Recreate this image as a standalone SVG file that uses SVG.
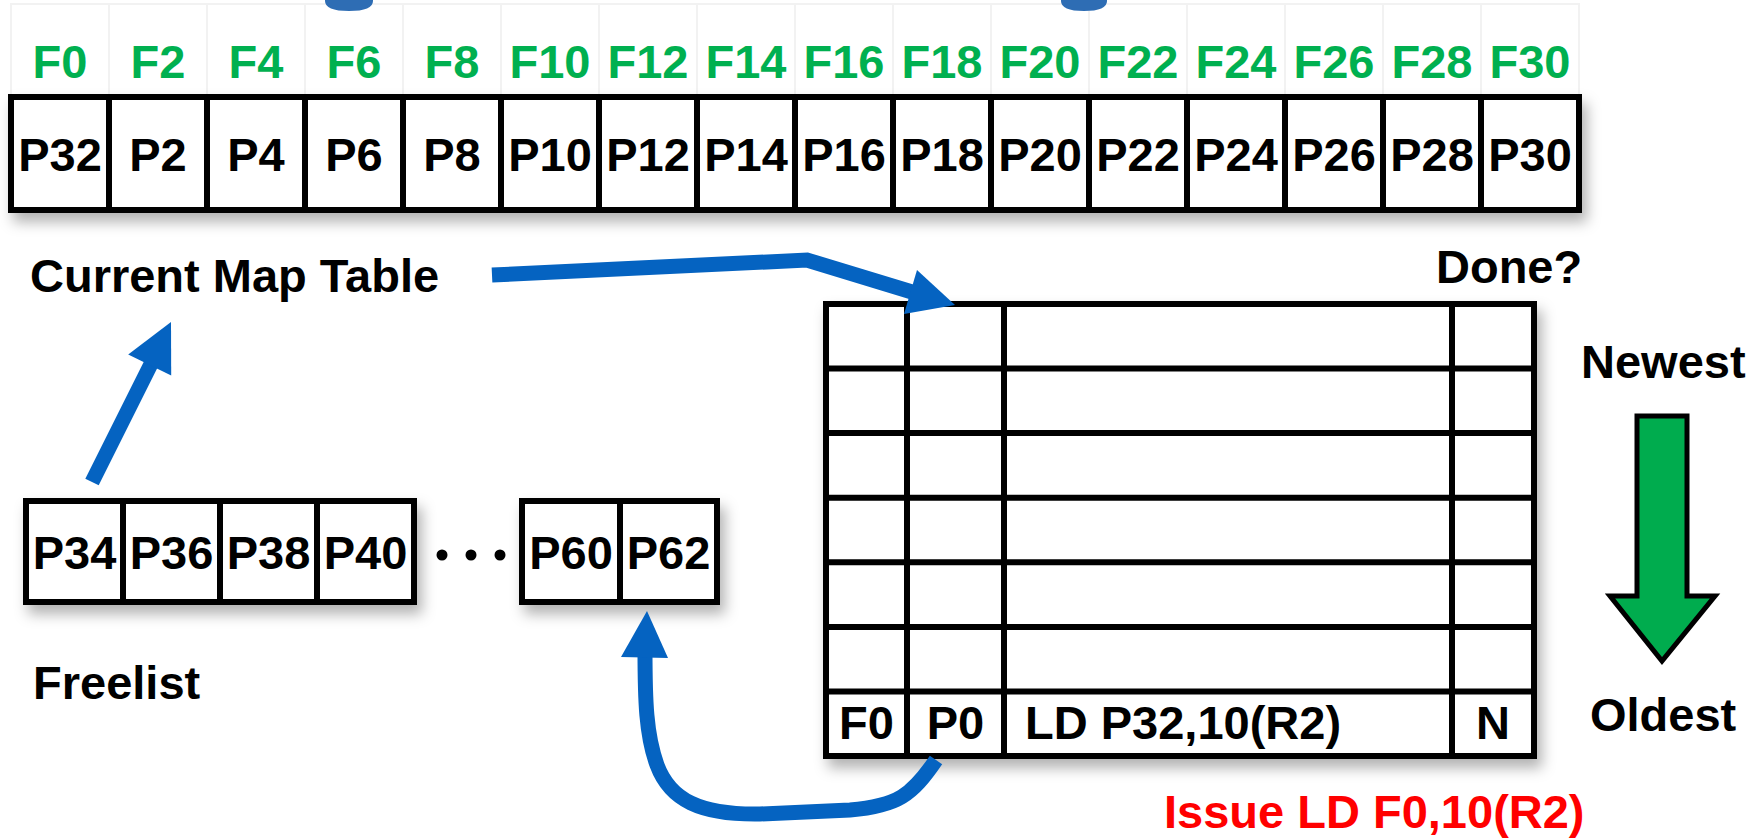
<svg xmlns="http://www.w3.org/2000/svg" width="1755" height="840" viewBox="0 0 1755 840">
<defs>
<style>
.t{font-family:"Liberation Sans",Arial,sans-serif;font-weight:bold;font-size:47px;fill:#000}
.g{fill:#00b050;text-anchor:middle}
.c{text-anchor:middle}
.r{fill:#ff0000}
.box{fill:#fff;stroke:#000;stroke-width:6}
.ln{stroke:#000;stroke-width:6;fill:none}
.hdr{fill:#fff;stroke:#f2f2f2;stroke-width:2}
.shaft{fill:none;stroke:#0563c1;stroke-width:15}
.head{fill:#0563c1}
</style>
<filter id="sh" x="-10%" y="-20%" width="130%" height="160%">
<feDropShadow dx="5" dy="9" stdDeviation="7" flood-color="#000" flood-opacity="0.3"/>
</filter>
</defs>
<rect width="1755" height="840" fill="#fff"/>

<g id="map-table">
<g id="map-header">
<rect class="hdr" x="11" y="4" width="1568" height="93"/>
<path d="M109 4V97M207 4V97M305 4V97M403 4V97M501 4V97M599 4V97M697 4V97M795 4V97M893 4V97M991 4V97M1089 4V97M1187 4V97M1285 4V97M1383 4V97M1481 4V97" stroke="#f2f2f2" stroke-width="2"/>
<text class="t g" x="60" y="78">F0</text>
<text class="t g" x="158" y="78">F2</text>
<text class="t g" x="256" y="78">F4</text>
<text class="t g" x="354" y="78">F6</text>
<text class="t g" x="452" y="78">F8</text>
<text class="t g" x="550" y="78">F10</text>
<text class="t g" x="648" y="78">F12</text>
<text class="t g" x="746" y="78">F14</text>
<text class="t g" x="844" y="78">F16</text>
<text class="t g" x="942" y="78">F18</text>
<text class="t g" x="1040" y="78">F20</text>
<text class="t g" x="1138" y="78">F22</text>
<text class="t g" x="1236" y="78">F24</text>
<text class="t g" x="1334" y="78">F26</text>
<text class="t g" x="1432" y="78">F28</text>
<text class="t g" x="1530" y="78">F30</text>
</g>
<rect class="box" x="11" y="97" width="1568" height="113" filter="url(#sh)"/>
<path class="ln" d="M109 97V210M207 97V210M305 97V210M403 97V210M501 97V210M599 97V210M697 97V210M795 97V210M893 97V210M991 97V210M1089 97V210M1187 97V210M1285 97V210M1383 97V210M1481 97V210"/>
<text class="t c" x="60" y="171">P32</text>
<text class="t c" x="158" y="171">P2</text>
<text class="t c" x="256" y="171">P4</text>
<text class="t c" x="354" y="171">P6</text>
<text class="t c" x="452" y="171">P8</text>
<text class="t c" x="550" y="171">P10</text>
<text class="t c" x="648" y="171">P12</text>
<text class="t c" x="746" y="171">P14</text>
<text class="t c" x="844" y="171">P16</text>
<text class="t c" x="942" y="171">P18</text>
<text class="t c" x="1040" y="171">P20</text>
<text class="t c" x="1138" y="171">P22</text>
<text class="t c" x="1236" y="171">P24</text>
<text class="t c" x="1334" y="171">P26</text>
<text class="t c" x="1432" y="171">P28</text>
<text class="t c" x="1530" y="171">P30</text>
<text class="t" x="30" y="292">Current Map Table</text>
</g>

<g id="top-blobs">
<path d="M325 0 L373 0 L373 1 Q373 11 349 11 Q325 11 325 1 Z" fill="#2e6db4"/>
<path d="M1061 0 L1107 0 L1107 1 Q1107 11 1084 11 Q1061 11 1061 1 Z" fill="#2e6db4"/>
</g>

<g id="freelist">
<rect class="box" x="26" y="501" width="388" height="101" filter="url(#sh)"/>
<path class="ln" d="M123 501V602M220 501V602M317 501V602"/>
<text class="t c" x="74.5" y="569">P34</text>
<text class="t c" x="171.5" y="569">P36</text>
<text class="t c" x="268.5" y="569">P38</text>
<text class="t c" x="365.5" y="569">P40</text>
<circle cx="442" cy="555" r="5.5"/>
<circle cx="471" cy="555" r="5.5"/>
<circle cx="500" cy="555" r="5.5"/>
<rect class="box" x="522" y="501" width="195" height="101" filter="url(#sh)"/>
<path class="ln" d="M620 501V602"/>
<text class="t c" x="571" y="569">P60</text>
<text class="t c" x="668.5" y="569">P62</text>
<text class="t" x="33" y="699">Freelist</text>
</g>

<g id="rob">
<rect class="box" x="826" y="304" width="708" height="452" filter="url(#sh)"/>
<path class="ln" d="M907 304V756M1004 304V756M1452 304V756M826 368.6H1534M826 433.1H1534M826 497.7H1534M826 562.3H1534M826 626.9H1534M826 691.4H1534"/>
<text class="t c" x="866.5" y="739">F0</text>
<text class="t c" x="955.5" y="739">P0</text>
<text class="t" x="1025" y="739">LD P32,10(R2)</text>
<text class="t c" x="1493" y="739">N</text>
<text class="t" x="1436" y="283">Done?</text>
</g>

<g id="age-arrow">
<text class="t" x="1581" y="378">Newest</text>
<polygon points="1637,416 1687,416 1687,596 1715,596 1662,661 1610,596 1637,596" fill="#00ac4e" stroke="#000" stroke-width="5" stroke-linejoin="miter"/>
<text class="t" x="1590" y="731">Oldest</text>
</g>

<g id="issue-label">
<text class="t r" x="1164" y="828">Issue LD F0,10(R2)</text>
</g>

<g id="connectors">
<path class="shaft" d="M92 482 L152 362" stroke-width="13"/>
<polygon class="head" points="171,322 171.2,375.6 128.2,354.4"/>
<path class="shaft" d="M492 275 L807 260 L912 292"/>
<polygon class="head" points="955,305 917,270 904,314"/>
<path class="shaft" d="M936 760 C912 795 898 806 850 810 L760 814 C700 815 670 800 657 765 C646 735 645 700 645 650"/>
<polygon class="head" points="647,611 621,657 668,658"/>
</g>
</svg>
